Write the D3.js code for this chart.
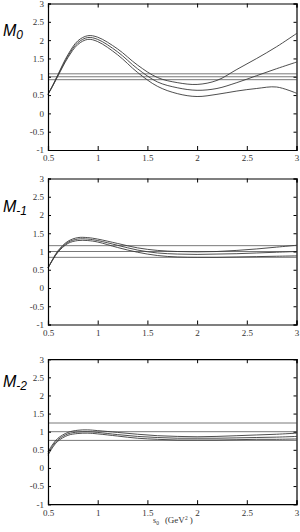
<!DOCTYPE html>
<html><head><meta charset="utf-8">
<script src="https://cdn.jsdelivr.net/npm/d3@7"></script>
<style>html,body{margin:0;padding:0;background:#fff;}svg{display:block;}</style>
</head><body>
<svg id="c" width="300" height="532"></svg>
<script>
const xs = [0.5, 0.55, 0.6, 0.7, 0.8, 0.9, 1.0, 1.2, 1.4, 1.6, 1.8, 2.0, 2.2, 2.4, 2.6, 2.8, 3.0];

const m0A = [0.52, 0.78, 1.06, 1.60, 1.98, 2.12, 2.08, 1.76, 1.32, 0.98, 0.84, 0.79, 0.90, 1.20, 1.50, 1.82, 2.18];
const m0B = [0.52, 0.77, 1.04, 1.56, 1.93, 2.07, 2.02, 1.68, 1.22, 0.86, 0.70, 0.63, 0.68, 0.84, 1.03, 1.22, 1.40];
const m0C = [0.52, 0.76, 1.02, 1.52, 1.88, 2.02, 1.96, 1.60, 1.12, 0.74, 0.54, 0.46, 0.52, 0.61, 0.68, 0.72, 0.55];
const m0H = [1.08, 1.0, 0.92];

const m1A = [0.55, 0.80, 1.02, 1.28, 1.38, 1.38, 1.34, 1.22, 1.10, 1.03, 1.00, 0.99, 1.00, 1.03, 1.07, 1.12, 1.17];
const m1B = [0.55, 0.79, 1.00, 1.25, 1.34, 1.34, 1.30, 1.17, 1.04, 0.96, 0.93, 0.92, 0.93, 0.94, 0.96, 0.98, 1.00];
const m1C = [0.55, 0.78, 0.98, 1.22, 1.30, 1.30, 1.26, 1.11, 0.98, 0.89, 0.85, 0.84, 0.84, 0.85, 0.86, 0.87, 0.88];
const m1H = [1.16, 1.0, 0.84];

const m2A = [0.45, 0.66, 0.82, 0.98, 1.04, 1.05, 1.03, 0.98, 0.93, 0.89, 0.87, 0.86, 0.87, 0.89, 0.91, 0.93, 0.96];
const m2B = [0.40, 0.62, 0.78, 0.94, 0.99, 1.00, 0.98, 0.92, 0.87, 0.84, 0.82, 0.82, 0.82, 0.83, 0.84, 0.85, 0.87];
const m2C = [0.35, 0.58, 0.74, 0.90, 0.95, 0.96, 0.94, 0.88, 0.82, 0.79, 0.77, 0.77, 0.77, 0.78, 0.79, 0.79, 0.80];
const m2H = [1.24, 1.0, 0.76];

const xTicks = [0.5, 1, 1.5, 2, 2.5, 3];
const xTickLabels = ["0.5", "1", "1.5", "2", "2.5", "3"];
const yTicks = [-1, -0.5, 0, 0.5, 1, 1.5, 2, 2.5, 3];
const yTickLabels = ["-1", "-0.5", "0", "0.5", "1", "1.5", "2", "2.5", "3"];
const panelLabels = [["M", "0"], ["M", "-1"], ["M", "-2"]];
const xTitle = ["s", "0", "(GeV", "2", ")"];

const panels = [
  {curves: [m0A, m0B, m0C], hl: m0H, top: 3.5, bottom: 150, lab: panelLabels[0], labDy: 32.5},
  {curves: [m1A, m1B, m1C], hl: m1H, top: 178.5, bottom: 324.5, lab: panelLabels[1], labDy: 33},
  {curves: [m2A, m2B, m2C], hl: m2H, top: 359.2, bottom: 504.2, lab: panelLabels[2], labDy: 28}
];

const svg = d3.select("#c");
const left = 48, right = 296.5;
const x = d3.scaleLinear().domain([0.5, 3]).range([left, right]);

panels.forEach(p => {
  const y = d3.scaleLinear().domain([-1, 3]).range([p.bottom, p.top]);
  const g = svg.append("g");

  // horizontal lines
  g.selectAll("line.h").data(p.hl).enter().append("line")
    .attr("x1", x(0.5)).attr("x2", x(3))
    .attr("y1", d => y(d)).attr("y2", d => y(d))
    .attr("stroke", "#6a6a6a").attr("stroke-width", 0.9);

  const line = d3.line().x((d, i) => x(xs[i])).y(d => y(d)).curve(d3.curveCatmullRom.alpha(0.5));
  g.selectAll("path.c").data(p.curves).enter().append("path")
    .attr("d", d => line(d)).attr("fill", "none")
    .attr("stroke", "#3a3a3a").attr("stroke-width", 0.9);

  // axes
  const fmtY = d => yTickLabels[yTicks.indexOf(d)];
  const fmtX = d => xTickLabels[xTicks.indexOf(d)];
  const ax = [
    g.append("g").attr("transform", `translate(${left},0)`).call(d3.axisLeft(y).tickValues(yTicks).tickSize(-3).tickPadding(4).tickFormat(fmtY)),
    g.append("g").attr("transform", `translate(${right},0)`).call(d3.axisRight(y).tickValues(yTicks).tickSize(-3).tickFormat("")),
    g.append("g").attr("transform", `translate(0,${p.bottom})`).call(d3.axisBottom(x).tickValues(xTicks).tickSize(-4).tickPadding(5).tickFormat(fmtX)),
    g.append("g").attr("transform", `translate(0,${p.top})`).call(d3.axisTop(x).tickValues(xTicks).tickSize(-4).tickFormat(""))
  ];
  ax.forEach(a => {
    a.select(".domain").attr("stroke", "#000").attr("stroke-width", 1.2);
    a.selectAll(".tick line").attr("stroke", "#000").attr("stroke-width", 1);
    a.selectAll(".tick text").attr("font-family", "'Liberation Serif', serif").attr("font-size", 9).attr("fill", "#333");
  });

  // panel label
  const t = g.append("text").attr("x", 3).attr("y", p.top + p.labDy)
    .attr("font-family", "'Liberation Sans', Arial, sans-serif").attr("font-style", "italic")
    .attr("font-size", 16).attr("fill", "#000");
  t.append("tspan").text(p.lab[0]);
  t.append("tspan").attr("dy", 3).attr("font-size", 12).text(p.lab[1]);
});

// x title
const xt = svg.append("text").attr("x", 153).attr("y", 523)
  .attr("font-family", "'Liberation Serif', serif").attr("font-size", 8).attr("fill", "#333");
xt.append("tspan").text(xTitle[0]);
xt.append("tspan").attr("dy", 1.5).attr("font-size", 5.5).text(xTitle[1]);
xt.append("tspan").attr("dx", 6).attr("dy", -1.5).attr("font-size", 9).text(xTitle[2]);
xt.append("tspan").attr("dy", -3).attr("font-size", 5.5).text(xTitle[3]);
xt.append("tspan").attr("dx", 2).attr("dy", 3).attr("font-size", 9).text(xTitle[4]);
</script>
</body></html>
